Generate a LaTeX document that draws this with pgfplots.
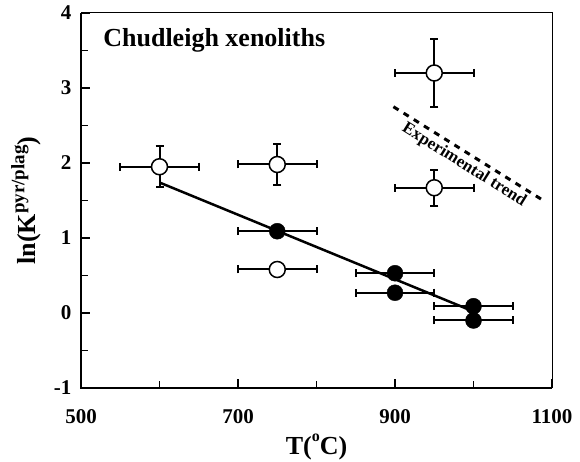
\documentclass[border=0pt]{standalone}
\usepackage{fontspec}
\setmainfont{Liberation Serif}
\usepackage{pgfplots}
\pgfplotsset{compat=1.18}
\usepackage{pgfplotstable}

% open circles: T, ln K, T error, lnK error
\pgfplotstableread{
x    y     ex  ey
600  1.95  50  0.27
750  1.98  50  0.27
950  3.20  50  0.45
950  1.67  50  0.24
750  0.58  50  0
}\opendata

% filled circles
\pgfplotstableread{
x     y      ex  ey
750   1.09   50  0
900   0.53   50  0
900   0.27   50  0
1000  0.09   50  0
1000  -0.10  50  0
}\filleddata

\newcommand{\tickfont}{\fontsize{21}{24}\selectfont\bfseries}
\newcommand{\labfont}{\fontsize{26}{30}\selectfont\bfseries}

\begin{document}
\begin{tikzpicture}
\path[use as bounding box] (0,0) rectangle (580pt,462pt);
\begin{axis}[
    at={(81pt,74pt)}, anchor=south west,
    scale only axis,
    width=471pt, height=375pt,
    xmin=500, xmax=1100,
    ymin=-1, ymax=4,
    xtick={500,700,900,1100},
    minor xtick={600,800,1000},
    ytick={-1,0,1,2,3,4},
    minor ytick={-0.5,0.5,1.5,2.5,3.5},
    tick pos=left,
    tick align=inside,
    major tick length=9pt,
    minor tick length=7pt,
    every tick/.style={black, line width=1.5pt},
    axis line style={line width=1pt},
    /pgf/number format/assume math mode=true,
    /pgf/number format/1000 sep={},
    xticklabel style={font=\tickfont, anchor=base, yshift=-36pt},
    yticklabel style={font=\tickfont, xshift=-6pt},
    xlabel={T(\raisebox{0.5em}{\fontsize{16}{18}\selectfont o}C)},
    ylabel={ln(K\raisebox{0.45em}{\fontsize{19}{21}\selectfont pyr/plag})},
    xlabel style={font=\labfont, at={(rel axis cs:0.5,0)}, anchor=base, yshift=-67pt},
    ylabel style={font=\labfont, at={(rel axis cs:0,0.5)}, anchor=base, yshift=45pt},
    clip=false,
]
% error bars first, markers on top
\addplot[draw=none, mark=none, forget plot,
    error bars/.cd, x dir=both, x explicit, y dir=both, y explicit,
    error bar style={draw=black, line width=2pt},
    error mark options={draw=black, line width=2pt, mark size=4pt, rotate=90}]
    table[x=x, y=y, x error=ex, y error=ey] {\opendata};
\addplot[draw=none, mark=none, forget plot,
    error bars/.cd, x dir=both, x explicit,
    error bar style={draw=black, line width=2pt},
    error mark options={draw=black, line width=2pt, mark size=4pt, rotate=90}]
    table[x=x, y=y, x error=ex] {\filleddata};

% fitted line
\addplot[black, line width=2.5pt] coordinates {(600,1.74) (1000,0.02)};
% experimental trend
\addplot[black, line width=3pt, dash pattern=on 6pt off 6pt] coordinates {(898,2.75) (1092,1.48)};

\addplot[only marks, mark=*, mark size=8pt,
    mark options={fill=white, draw=black, line width=1.5pt}]
    table[x=x, y=y] {\opendata};
\addplot[only marks, mark=*, mark size=8pt,
    mark options={fill=black, draw=black}]
    table[x=x, y=y] {\filleddata};

\node[anchor=base west, font=\fontsize{26}{30}\selectfont\bfseries] at (axis cs:524,3.55) {Chudleigh xenoliths};
\node[rotate=-32, font=\fontsize{17}{20}\selectfont\bfseries] at (axis cs:988,1.97) {Experimental trend};

\draw[line width=2pt] (rel axis cs:0,1) -- (rel axis cs:0,0) -- (rel axis cs:1,0);
\end{axis}
\end{tikzpicture}
\end{document}
